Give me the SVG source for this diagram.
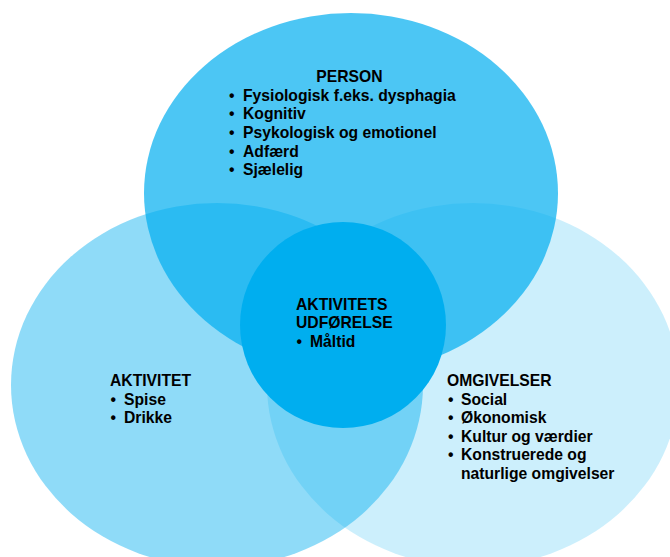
<svg xmlns="http://www.w3.org/2000/svg" width="670" height="557" viewBox="0 0 670 557">
<style>
.c{fill:#00AEEF}
.t{font-family:"Liberation Sans",Arial,Helvetica,sans-serif;font-weight:bold;font-size:15.7px;fill:#000}
</style>
<rect width="670" height="557" fill="#fff"/>
<g id="omgivelser">
<ellipse class="c" cx="473" cy="385" rx="206" ry="182" fill-opacity="0.2"/>
</g>
<g id="aktivitet">
<ellipse class="c" cx="217" cy="385" rx="206" ry="182" fill-opacity="0.44"/>
</g>
<g id="person">
<ellipse class="c" cx="351" cy="193" rx="207" ry="180" fill-opacity="0.7"/>
</g>
<g id="aktivitets-udforelse">
<circle class="c" cx="343" cy="325" r="103"/>
</g>
<g id="person-text" class="t">
<text x="349.5" y="81.7" text-anchor="middle">PERSON</text>
<text x="229" y="100.7">•</text><text x="243" y="100.7">Fysiologisk f.eks. dysphagia</text>
<text x="229" y="119">•</text><text x="243" y="119">Kognitiv</text>
<text x="229" y="137.5">•</text><text x="243" y="137.5">Psykologisk og emotionel</text>
<text x="229" y="156.5">•</text><text x="243" y="156.5">Adfærd</text>
<text x="229" y="175">•</text><text x="243" y="175">Sjælelig</text>
</g>
<g id="center-text" class="t">
<text x="296" y="310">AKTIVITETS</text>
<text x="296" y="328">UDFØRELSE</text>
<text x="296.5" y="346.7">•</text><text x="310" y="346.7">Måltid</text>
</g>
<g id="aktivitet-text" class="t">
<text x="110" y="386">AKTIVITET</text>
<text x="110.5" y="404.5">•</text><text x="124" y="404.5">Spise</text>
<text x="110.5" y="423">•</text><text x="124" y="423">Drikke</text>
</g>
<g id="omgivelser-text" class="t">
<text x="447" y="386">OMGIVELSER</text>
<text x="448" y="404.5">•</text><text x="461" y="404.5">Social</text>
<text x="448" y="423">•</text><text x="461" y="423">Økonomisk</text>
<text x="448" y="441.7">•</text><text x="461" y="441.7">Kultur og værdier</text>
<text x="448" y="460">•</text><text x="461" y="460">Konstruerede og</text>
<text x="461" y="478.7">naturlige omgivelser</text>
</g>
</svg>
